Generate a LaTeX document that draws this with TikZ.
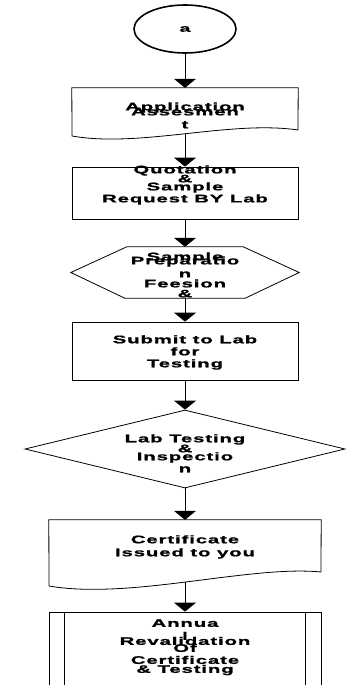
\documentclass[tikz,border=0pt]{standalone}
\usepackage{fontspec}
\newfontfamily\flowfont{Liberation Sans}[FakeStretch=1.85,LetterSpace=8,FakeBold=1.2]
\usetikzlibrary{shapes,arrows.meta,positioning}

\begin{document}
\begin{tikzpicture}[x=1pt,y=-1pt,
    txt/.style={font=\flowfont\bfseries\fontsize{11}{12}\selectfont, align=center, inner sep=0pt, anchor=north},
    box/.style={draw, line width=0.8pt, minimum width=226pt, inner sep=0pt},
    flow/.style={line width=0.8pt, -{Triangle[width=22pt,length=9pt]}}]
    \path[use as bounding box] (0,0) rectangle (349,685);
    \clip (0,0) rectangle (349,685);

    % start
    \node[draw, ellipse, line width=1.6pt, minimum width=102pt, minimum height=48pt, inner sep=0pt,
          font=\flowfont\bfseries\fontsize{10.5}{12}\selectfont] (start) at (185,29) {a};

    % application document
    \node[minimum width=226pt, minimum height=48pt, inner sep=0pt] (appl) at (185,112) {};
    \draw[line width=0.8pt] (appl.north west) -- (appl.north east) -- (298,130)
        .. controls (230,120) and (140,148) .. (72,136) -- cycle;
    \coordinate (appl-w) at (185,134);
    \node[txt] (tappl) at (185,102.2) {Application\\[-7pt]Assesmen\\[1pt]t};

    % quotation
    \node[box, minimum height=52pt] (quote) at (185,193) {};
    \node[txt] (tquote) at (185,165.2) {Quotation\\[-3pt]\&\\[-4pt]Sample\\Request BY Lab};

    % preparation hexagon
    \node[minimum width=228pt, minimum height=51pt, inner sep=0pt] (prep) at (185,272.5) {};
    \draw[line width=0.8pt] (prep.west) -- ([xshift=56pt]prep.north west) -- ([xshift=-56pt]prep.north east)
        -- (prep.east) -- ([xshift=-54pt]prep.south east) -- ([xshift=54pt]prep.south west) -- cycle;
    \node[txt] (tprep) at (185,252.2) {Sample\\[-8pt]Preparatio\\[1pt]n\\[-2pt]Feesion\\[-2pt]\&};

    % submit
    \node[box, minimum height=58pt] (submit) at (185,351) {};
    \node[txt] (tsubmit) at (185,335.1) {Submit to Lab\\for\\Testing};

    % lab testing decision
    \node[draw, diamond, line width=0.8pt, minimum width=320pt, minimum height=78pt, inner sep=0pt] (labtest) at (185,449) {};
    \node[txt] (tlabtest) at (185,434.1) {Lab Testing\\[-2pt]\&\\[-4pt]Inspectio\\n};

    % certificate document
    \node[minimum width=272pt, minimum height=66pt, inner sep=0pt] (cert) at (185,553) {};
    \draw[line width=0.8pt] (cert.north west) -- (cert.north east) -- (321,572)
        .. controls (250,565) and (130,600) .. (49,586) -- cycle;
    \coordinate (cert-w) at (185,582);
    \node[txt] (tcert) at (185,535.1) {Certificate\\[1pt]Issued to you};

    % annual revalidation
    \node[box, minimum width=272pt, minimum height=96pt] (annual) at (185,660) {};
    \draw[line width=0.8pt] ([xshift=16pt]annual.north west) -- ([xshift=16pt]annual.south west);
    \draw[line width=0.8pt] ([xshift=-16pt]annual.north east) -- ([xshift=-16pt]annual.south east);
    \node[txt] (tannual) at (185,619.1) {Annua\\[1pt]l\\[-7pt]Revalidation\\[-5pt]Of\\Certificate\\[-3pt]\& Testing};

    % arrows
    \draw[flow] (start) -- (appl.north);
    \draw[flow] (appl-w) -- (quote.north);
    \draw[flow] (quote) -- (prep.north);
    \draw[flow] (prep.south) -- (submit.north);
    \draw[flow] (submit) -- (labtest);
    \draw[flow] (labtest) -- (cert.north);
    \draw[flow] (cert-w) -- (annual);
\end{tikzpicture}
\end{document}
